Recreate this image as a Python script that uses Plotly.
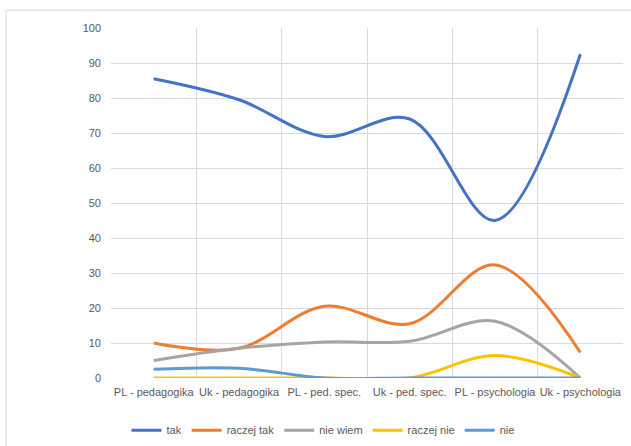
import plotly.graph_objects as go

categories = ["PL - pedagogika", "Uk - pedagogika", "PL - ped. spec.",
              "Uk - ped. spec.", "PL - psychologia", "Uk - psychologia"]
tak = [85.5, 79.5, 69, 74, 45, 92.5]
raczej_tak = [10, 8.5, 20.5, 15.5, 32.3, 7.3]
nie_wiem = [5, 8.5, 10.3, 10.5, 16.2, 0]
raczej_nie = [0, 0, 0, 0, 6.4, 0]
nie = [2.5, 2.8, 0, 0, 0, 0]

series = [
    ("tak", tak, "#4472C4"),
    ("raczej tak", raczej_tak, "#ED7D31"),
    ("nie wiem", nie_wiem, "#A5A5A5"),
    ("raczej nie", raczej_nie, "#FFC000"),
    ("nie", nie, "#5B9BD5"),
]

fig = go.Figure()
for name, vals, color in series:
    fig.add_trace(go.Scatter(
        x=categories, y=vals, name=name, mode="lines",
        line=dict(color=color, width=3, shape="spline", smoothing=1.0),
    ))

font_family = "Liberation Sans, Arial, sans-serif"
fig.update_layout(
    width=631, height=446,
    margin=dict(l=111, r=8, t=28, b=68, autoexpand=False),
    paper_bgcolor="white", plot_bgcolor="white",
    font=dict(family=font_family, size=11, color="#595959"),
    showlegend=True,
    legend=dict(orientation="h", x=0.414, xanchor="center", y=-0.149, yanchor="middle",
                font=dict(size=11, color="#595959"), itemwidth=30),
    shapes=[dict(type="rect", xref="paper", yref="paper",
                 x0=-0.205, x1=1.05, y0=-0.22, y1=1.051,
                 line=dict(color="#D9D9D9", width=1), fillcolor="rgba(0,0,0,0)", layer="below")],
)
fig.update_xaxes(type="category", tickson="boundaries", showgrid=True, range=[-0.5, 5.5],
                 automargin=False, tickangle=0,
                 gridcolor="#D9D9D9", gridwidth=1, zeroline=False, showline=False,
                 ticks="", ticklabelstandoff=6, tickfont=dict(size=11, color="#595959"))
fig.update_yaxes(range=[0, 100], dtick=10, showgrid=True, gridcolor="#D9D9D9", gridwidth=1,
                 automargin=False,
                 zeroline=False, showline=False, ticks="", ticklabelstandoff=9,
                 tickfont=dict(size=11, color="#595959"))

fig.write_html("out.html", config={"displayModeBar": False},
               post_script="document.body.style.margin='0';")
